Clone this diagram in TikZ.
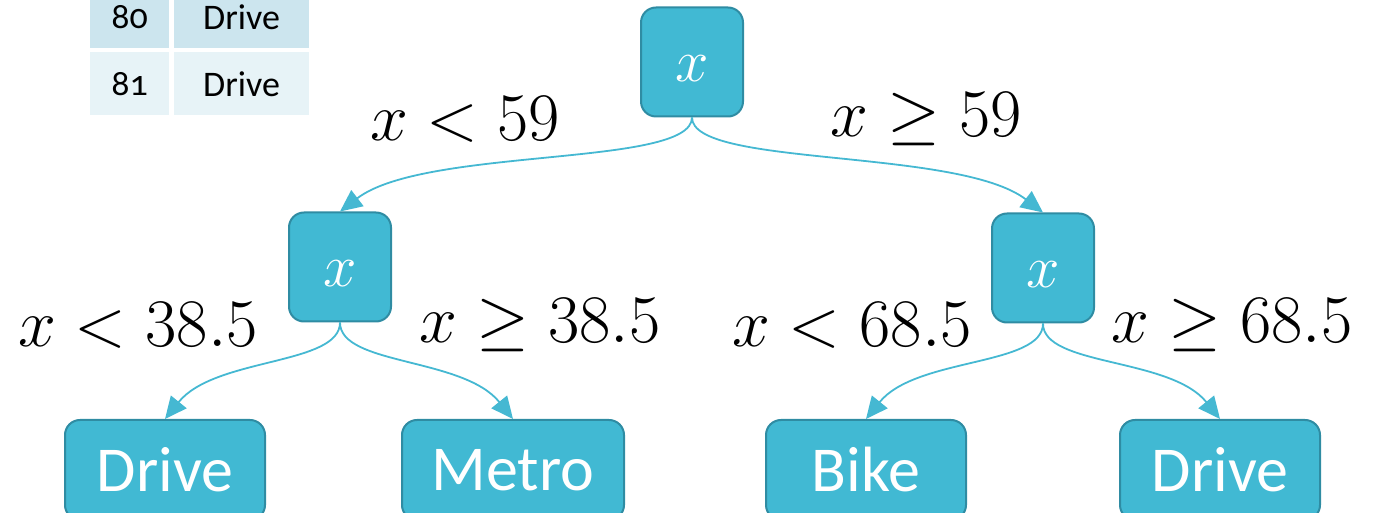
\RequirePackage{fix-cm}
\documentclass[tikz,border=0pt]{standalone}
\usepackage{fontspec}
\setmainfont{Carlito}[Numbers=OldStyle]
\usetikzlibrary{arrows.meta, positioning}
\definecolor{treeteal}{HTML}{41B9D3}
\definecolor{treeedge}{HTML}{2F8CA3}
\definecolor{treeline}{HTML}{45B8D2}
\definecolor{rowdark}{HTML}{CCE5EE}
\definecolor{rowlight}{HTML}{E7F3F7}

\begin{document}
\begin{tikzpicture}[
    x=0.5pt, y=-0.5pt,
    splitbox/.style={draw=treeedge, line width=1pt, rounded corners=7.5pt, fill=treeteal, text=white, minimum width=51pt, minimum height=54.5pt, text height=20pt, font=\fontsize{30}{34}\selectfont},
    leafbox/.style={draw=treeedge, line width=1pt, rounded corners=7.5pt, fill=treeteal, text=white, minimum width=#1, minimum height=50pt, font=\fontsize{32}{38}\selectfont},
    leafbox/.default=100pt,
    branch/.style={-{Triangle[length=11pt, width=10pt]}, line width=0.9pt, color=treeline},
    cond/.style={font=\fontsize{34}{40}\selectfont, text=black},
    cell/.style={fill=#1, draw=white, line width=1.5pt, font=\fontsize{18}{22}\selectfont, text=black},
]
\useasboundingbox (0,0) rectangle (1378,513);

% Data table (cut at the top)
\node[cell=rowdark, minimum width=41pt, minimum height=33pt] (n80) at (129.5,17) {80};
\node[cell=rowdark, minimum width=69pt, minimum height=33pt] (d80) at (241.5,17) {Drive};
\node[cell=rowlight, minimum width=41pt, minimum height=33pt] (n81) at (129.5,84) {81};
\node[cell=rowlight, minimum width=69pt, minimum height=33pt] (d81) at (241.5,84) {Drive};

% Tree nodes
\node[splitbox] (root) at (692,62) {$x$};
\node[splitbox] (lsplit) at (340,267) {$x$};
\node[splitbox] (rsplit) at (1043,268) {$x$};
\node[leafbox] (drivea) at (165,470) {Drive};
\node[leafbox=111pt] (metro) at (513,470) {Metro};
\node[leafbox] (bike) at (866,470) {Bike};
\node[leafbox] (driveb) at (1220,470) {Drive};

% Branches
\draw[branch] (root.south) .. controls +(0,50) and +(85,-65) .. (lsplit.north);
\draw[branch] (root.south) .. controls +(0,50) and +(-85,-65) .. (rsplit.north);
\draw[branch] (lsplit.south) .. controls +(0,43) and +(50,-62) .. (drivea.north);
\draw[branch] (lsplit.south) .. controls +(0,43) and +(-50,-62) .. (metro.north);
\draw[branch] (rsplit.south) .. controls +(0,43) and +(50,-62) .. (bike.north);
\draw[branch] (rsplit.south) .. controls +(0,43) and +(-50,-62) .. (driveb.north);

% Split conditions
\node[cond] (c1) at (465,119) {$x < 59$};
\node[cond] (c2) at (926,119) {$x \geq 59$};
\node[cond] (c3) at (138,325) {$x < 38.5$};
\node[cond] (c4) at (540,325) {$x \geq 38.5$};
\node[cond] (c5) at (852,325) {$x < 68.5$};
\node[cond] (c6) at (1232,325) {$x \geq 68.5$};

\end{tikzpicture}
\end{document}
